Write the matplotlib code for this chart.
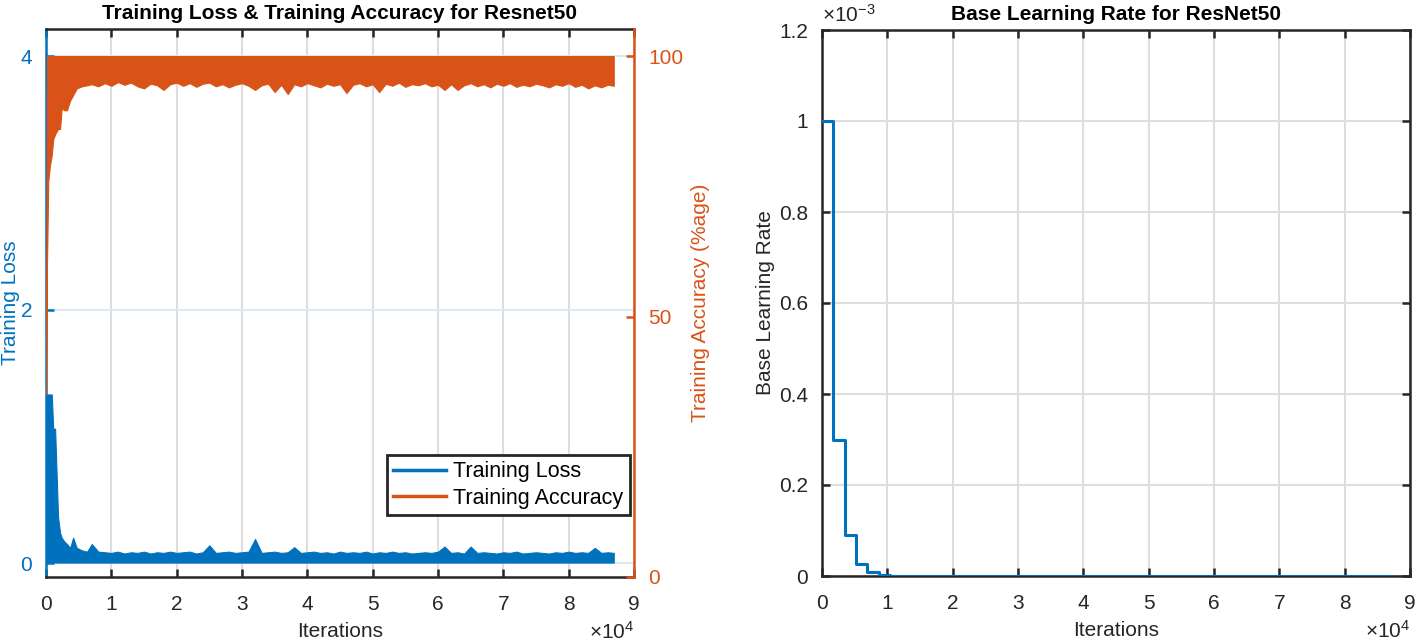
import numpy as np
import matplotlib
matplotlib.use('Agg')
import matplotlib.pyplot as plt
from matplotlib.lines import Line2D

plt.rcParams['font.family'] = ['Liberation Sans', 'DejaVu Sans']
plt.rcParams['mathtext.default'] = 'regular'
plt.rcParams['font.size'] = 15

blue = '#0072BD'
orange = '#D95319'
dark = '#262626'

# sample iterations
it_early = [0, 150, 350, 600, 880, 1100, 1390, 1850, 2150, 2400, 2800, 3200,
            3700, 4150, 4700, 5500, 6300, 7000, 8000]
it_late = list(range(9000, 86001, 1000)) + [86900]
iters = np.array(it_early + it_late)

# training accuracy: lower edge of the noisy band (upper edge is 100%)
acc_low = [35, 60, 76, 79, 81, 84, 85, 86, 86, 90, 89.6, 89.6, 91.5, 92.5, 93.8,
           94.2, 94.4, 94.6, 94.2,
           94.8, 94.3, 95.0, 94.5, 94.9, 94.2, 93.8, 94.7, 94.4, 93.5,
           94.6, 94.9, 94.3, 94.8, 94.1, 94.7, 94.9, 94.2, 94.6, 94.0,
           94.5, 94.8, 94.3, 93.5, 94.4, 94.7, 93.1, 94.5, 92.7, 94.6,
           94.2, 94.8, 94.4, 94.0, 94.7, 94.3, 94.6, 92.9, 94.5, 94.8,
           94.2, 94.6, 93.1, 94.7, 94.3, 94.9, 94.1, 94.6, 94.4, 94.8,
           94.2, 94.5, 93.5, 94.6, 93.5, 94.4, 94.8, 94.2, 94.6, 94.0,
           94.7, 94.3, 94.8, 94.1, 94.5, 94.2, 94.7, 94.4, 94.0, 94.6,
           94.3, 94.8, 94.1, 94.5, 93.8, 94.4, 94.0, 94.5, 94.3]
acc_high = [40.0] + [100.0] * (len(iters) - 1)

# training loss: upper edge of the noisy band
loss_high = [1.33, 1.33, 1.33, 1.33, 1.33, 1.06, 1.06, 0.36, 0.24, 0.2, 0.17, 0.15,
             0.12, 0.2, 0.12, 0.1, 0.09, 0.15, 0.09,
             0.085, 0.08, 0.09, 0.075, 0.085, 0.08, 0.09, 0.075, 0.085, 0.08,
             0.09, 0.08, 0.085, 0.09, 0.075, 0.085, 0.14, 0.08, 0.085, 0.09,
             0.08, 0.085, 0.09, 0.19, 0.08, 0.085, 0.09, 0.08, 0.085, 0.125,
             0.08, 0.085, 0.09, 0.08, 0.085, 0.075, 0.09, 0.08, 0.085, 0.08,
             0.09, 0.075, 0.085, 0.08, 0.09, 0.08, 0.085, 0.075, 0.08, 0.085,
             0.08, 0.09, 0.13, 0.08, 0.085, 0.075, 0.13, 0.08, 0.085, 0.08,
             0.075, 0.085, 0.08, 0.09, 0.075, 0.08, 0.085, 0.08, 0.075, 0.085,
             0.08, 0.09, 0.08, 0.085, 0.08, 0.12, 0.08, 0.085, 0.08]
loss_floor = 0.004

# base learning rate, piecewise constant per epoch
lr_iter = [0, 1740, 3480, 5220, 6960, 8700, 10440, 12180, 86900]
lr_val = [1e-3, 3e-4, 9e-5, 2.7e-5, 8.1e-6, 2.43e-6, 7.3e-7, 2.2e-7, 2.2e-7]

xticks = [0, 10000, 20000, 30000, 40000, 50000, 60000, 70000, 80000, 90000]
xticklabels = ['0', '1', '2', '3', '4', '5', '6', '7', '8', '9']

fig = plt.figure(figsize=(14.17, 6.42), dpi=100)

# ---------------- left plot ----------------
ax1 = fig.add_axes([46/1417, 65/642, 588/1417, 548/642])
ax2 = ax1.twinx()

ax1.fill_between(iters, loss_floor, loss_high, color=blue, lw=0.8, zorder=2)
ax2.fill_between(iters, acc_low, acc_high, color=orange, lw=0.8, zorder=2)

ax1.set_xlim(0, 90000)
ax1.set_ylim(-0.11, 4.213)
ax2.set_ylim(0, 105.2)
ax1.set_xticks(xticks)
ax1.set_xticklabels(xticklabels)
ax1.set_yticks([0, 2, 4])
ax2.set_yticks([0, 50, 100])

ax1.set_axisbelow(True)
ax1.xaxis.grid(True, color='#dedede', lw=1.5)
ax1.yaxis.grid(True, color='#d9eaf5', lw=1.5)

for s in ['top', 'bottom']:
    ax1.spines[s].set_color(dark)
    ax1.spines[s].set_linewidth(1.8)
ax1.spines['left'].set_color(blue)
ax1.spines['left'].set_linewidth(1.8)
ax1.spines['right'].set_visible(False)
ax2.spines['left'].set_visible(False)
ax2.spines['top'].set_visible(False)
ax2.spines['bottom'].set_visible(False)
ax2.spines['right'].set_color(orange)
ax2.spines['right'].set_linewidth(1.8)

ax1.tick_params(axis='x', direction='in', top=True, colors=dark, length=6, width=1.8, labelsize=15, pad=13)
ax1.tick_params(axis='y', direction='in', colors=blue, length=6, width=1.8, labelsize=15, pad=10)
ax2.tick_params(axis='y', direction='in', colors=orange, length=6, width=1.8, labelsize=15, pad=10)

ax1.set_xlabel('Iterations', color=dark, labelpad=6)
ax1.set_ylabel('Training Loss', color=blue)
ax1.yaxis.set_label_coords(-0.044, 0.5)
ax2.set_ylabel('Training Accuracy (%age)', color=orange)
ax2.yaxis.set_label_coords(1.097, 0.5)
ax1.set_title('Training Loss & Training Accuracy for Resnet50', fontweight='bold', fontsize=15, pad=7)
ax1.text(1.0, -0.08, r'$\times10^{4}$', transform=ax1.transAxes, ha='right', va='top', color=dark)

handles = [Line2D([], [], color=blue, lw=2.5), Line2D([], [], color=orange, lw=2.5)]
leg = ax2.legend(handles, ['Training Loss', 'Training Accuracy'], loc='lower right',
                 bbox_to_anchor=(0.993, 0.113), borderaxespad=0, fancybox=False,
                 framealpha=1, edgecolor=dark, fontsize=15.5, handlelength=2.45,
                 handletextpad=0.35, borderpad=0.3, labelspacing=0.25)
leg.get_frame().set_linewidth(2)

# ---------------- right plot ----------------
ax3 = fig.add_axes([822/1417, 66/642, 588/1417, 546/642])
ax3.step(lr_iter, lr_val, where='post', color=blue, lw=2.2, zorder=3)
ax3.set_xlim(0, 90000)
ax3.set_ylim(0, 1.2e-3)
ax3.set_xticks(xticks)
ax3.set_xticklabels(xticklabels)
ax3.set_yticks([0, 0.2e-3, 0.4e-3, 0.6e-3, 0.8e-3, 1.0e-3, 1.2e-3])
ax3.set_yticklabels(['0', '0.2', '0.4', '0.6', '0.8', '1', '1.2'])
ax3.set_axisbelow(True)
ax3.grid(True, color='#dedede', lw=1.5)
for s in ax3.spines.values():
    s.set_color(dark)
    s.set_linewidth(1.8)
ax3.tick_params(direction='in', top=True, right=True, colors=dark, length=6, width=1.8, labelsize=15)
ax3.tick_params(axis='x', pad=13)
ax3.tick_params(axis='y', pad=10)
ax3.set_xlabel('Iterations', color=dark, labelpad=6)
ax3.set_ylabel('Base Learning Rate', color=dark)
ax3.yaxis.set_label_coords(-0.080, 0.5)
ax3.set_title('Base Learning Rate for ResNet50', fontweight='bold', fontsize=15, pad=7)
ax3.text(0.0, 1.008, r'$\times10^{-3}$', transform=ax3.transAxes, ha='left', va='bottom', color=dark)
ax3.text(1.0, -0.08, r'$\times10^{4}$', transform=ax3.transAxes, ha='right', va='top', color=dark)

fig.savefig('out.png', dpi=100)
